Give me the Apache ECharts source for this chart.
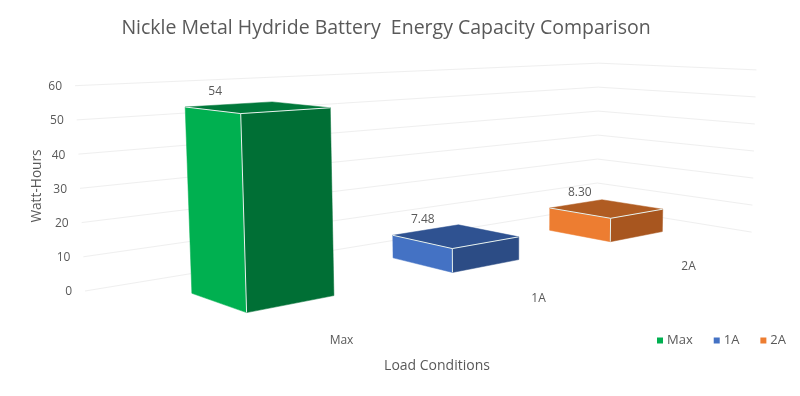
<!DOCTYPE html>
<html><head><meta charset="utf-8">
<style>html,body{margin:0;padding:0;background:#fff}#c{width:800px;height:396px}</style>
<script src="https://cdn.jsdelivr.net/npm/echarts@6/dist/echarts.min.js"></script>
</head><body><div id="c"></div>
<script>
const categories = ["Max", "1A", "2A"];
const capacityMax = [54];
const capacity1A = [7.48];
const capacity2A = [8.30];
const barLabels = ["54", "7.48", "8.30"];
const valueTicks = [0, 10, 20, 30, 40, 50, 60];
const FONT = '"Open Sans", "Noto Sans", sans-serif';
const TXT = '#595959';

// Perspective camera: floor corners on the picture plane, unit square -> quad
const F=[224,347],R=[757,233],A=[597,207],L=[85,291];
const HORIZON=10.5, HSCALE=0.0122, LEANX=500, LEAND=8600;
const H=(function(){
  const dx1=R[0]-A[0],dx2=L[0]-A[0],sx=F[0]-R[0]+A[0]-L[0];
  const dy1=R[1]-A[1],dy2=L[1]-A[1],sy=F[1]-R[1]+A[1]-L[1];
  const det=dx1*dy2-dx2*dy1;
  const g=(sx*dy2-dx2*sy)/det,h=(dx1*sy-sx*dy1)/det;
  return {a:R[0]-F[0]+g*R[0],b:L[0]-F[0]+h*L[0],c:F[0],d:R[1]-F[1]+g*R[1],e:L[1]-F[1]+h*L[1],f:F[1],g,h};
})();
function project(u,v,z){
  const w=1+H.g*u+H.h*v;
  const x=(H.a*u+H.b*v+H.c)/w, y=(H.d*u+H.e*v+H.f)/w;
  const px=HSCALE*(y-HORIZON)*z;
  return [x+(x-LEANX)*px/LEAND, y-px];
}
function toScene(api,params,cat,val){
  const s=params.coordSys, p=api.coord([cat,val]);
  return {u:(p[0]-s.x)/s.width, z:(s.y+s.height-p[1])/s.height*60, band:api.size([1,0])[0]/s.width};
}
const BAR_RATIO=0.39, U_SHIFT=-0.004, V0=0.32, V1=0.70, WALL_END_V=0.03;
function barSeries(name,idx,values,cols){
  return {
    name, type:'custom', coordinateSystem:'cartesian2d', clip:false, silent:true, z:3,
    itemStyle:{color:cols[0]},
    data:values.map(v=>[idx,v]),
    renderItem(params,api){
      const t=toScene(api,params,api.value(0),api.value(1));
      const hw=t.band*BAR_RATIO/2, u0=t.u+U_SHIFT-hw, u1=t.u+U_SHIFT+hw;
      const b=(u,v)=>project(u,v,0), p=(u,v)=>project(u,v,t.z);
      const poly=(pts,fill)=>({type:'polygon',shape:{points:pts},style:{fill,stroke:fill,lineWidth:0.5}});
      const edge=(pts)=>({type:'polyline',shape:{points:pts},style:{fill:null,stroke:'#e8f2ee',lineWidth:1}});
      const tl=p(u0,V1), lbl=[tl[0]+30,tl[1]-15.5];
      return {type:'group',children:[
        poly([b(u0,V1),b(u0,V0),p(u0,V0),p(u0,V1)],cols[0]),
        poly([b(u0,V0),b(u1,V0),p(u1,V0),p(u0,V0)],cols[1]),
        poly([p(u0,V1),p(u0,V0),p(u1,V0),p(u1,V1)],cols[2]),
        edge([p(u0,V1),p(u0,V0),p(u1,V0)]),
        edge([p(u0,V0),b(u0,V0)]),
        {type:'text',style:{text:barLabels[idx],x:lbl[0],y:lbl[1],fill:TXT,font:'12px '+FONT,align:'center',verticalAlign:'middle'}}
      ]};
    }
  };
}
const wallSeries={
  name:'walls', type:'custom', coordinateSystem:'cartesian2d', clip:false, silent:true, z:1,
  data:valueTicks.map(t=>[0,t]),
  renderItem(params,api){
    const t=toScene(api,params,0,api.value(1));
    const l=project(0,1,t.z);
    return {type:'group',children:[
      {type:'polyline',shape:{points:[l,project(1,1,t.z),project(1,WALL_END_V,t.z)]},style:{fill:null,stroke:'#efefef',lineWidth:1}},
      {type:'text',style:{text:String(api.value(1)),x:l[0]-13,y:l[1]+1,fill:TXT,font:'12px '+FONT,align:'right',verticalAlign:'middle'}}
    ]};
  }
};
const catSeries={
  name:'categories', type:'custom', coordinateSystem:'cartesian2d', clip:false, silent:true, z:2,
  data:categories.map((c,i)=>[i,0]),
  renderItem(params,api){
    const i=api.value(0), t=toScene(api,params,i,0), p=project(t.u,0,0);
    return {type:'text',style:{text:categories[i],x:p[0]-6,y:p[1]+20,fill:TXT,font:'12px '+FONT,align:'center',verticalAlign:'middle'}};
  }
};
const chart=echarts.init(document.getElementById('c'),null,{renderer:'canvas'});
chart.setOption({
  animation:false, backgroundColor:'#fff',
  title:{text:'Nickle Metal Hydride Battery  Energy Capacity Comparison',left:381,top:13,textAlign:'center',
    textStyle:{color:TXT,fontFamily:FONT,fontWeight:'normal',fontSize:19.5}},
  grid:{left:0,top:0,width:300,height:300,show:false},
  xAxis:{type:'category',data:categories,show:false},
  yAxis:{type:'value',min:0,max:60,interval:10,show:false},
  legend:{data:categories,left:652,top:329,itemWidth:6,itemHeight:6,itemGap:21,icon:'rect',
    textStyle:{color:TXT,fontFamily:FONT,fontSize:13,padding:[0,0,0,-1]}},
  graphic:[
    {type:'text',rotation:Math.PI/2,x:37,y:186,style:{text:'Watt-Hours',fill:TXT,font:'13.7px '+FONT,align:'center',verticalAlign:'middle'}},
    {type:'text',x:437,y:366,style:{text:'Load Conditions',fill:TXT,font:'14px '+FONT,align:'center',verticalAlign:'middle'}}
  ],
  series:[wallSeries,catSeries,
    barSeries('Max',0,capacityMax,['#00B050','#006F35','#00783A']),
    barSeries('1A',1,capacity1A,['#4472C4','#2C4C85','#2F5291']),
    barSeries('2A',2,capacity2A,['#ED7D31','#A8561F','#B05C22'])]
});
</script></body></html>
